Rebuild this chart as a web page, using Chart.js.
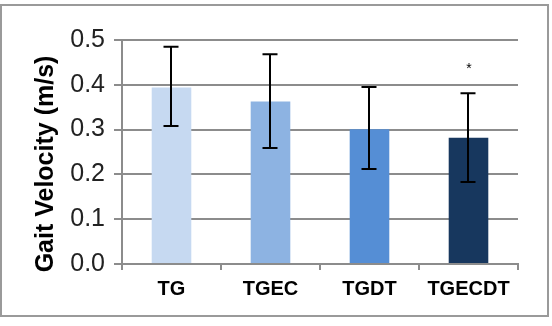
<!DOCTYPE html>
<html>
<head>
<meta charset="utf-8">
<script src="https://cdn.jsdelivr.net/npm/chart.js@4"></script>
<style>
  body { margin: 0; background: #fff; }
  #wrap { position: relative; width: 552px; height: 326px; }
  #frame {
    position: absolute; left: 0px; top: 4px; width: 545px; height: 309px;
    border: 2px solid #9a9a9a; pointer-events: none;
  }
</style>
</head>
<body>
<div id="wrap">
  <canvas id="gaitChart" width="552" height="326"></canvas>
  <div id="frame"></div>
</div>
<script>
const groups = ['TG', 'TGEC', 'TGDT', 'TGECDT'];
const velocity = [0.394, 0.363, 0.301, 0.282];
const errUpper = [0.485, 0.468, 0.395, 0.381];
const errLower = [0.308, 0.259, 0.212, 0.183];
const sigMarks = ['', '', '', '*'];
const yTicks = [0.0, 0.1, 0.2, 0.3, 0.4, 0.5];
const barColors = ['#c6d9f1', '#8db3e2', '#558ed5', '#17375e'];

// error bars, significance star and the rotated axis title
const extras = {
    id: 'extras',
    afterDatasetsDraw(chart) {
        const ctx = chart.ctx;
        const x = chart.scales.x, y = chart.scales.y;
        ctx.save();
        ctx.strokeStyle = '#000';
        ctx.lineWidth = 2;
        groups.forEach((g, i) => {
            const cx = Math.round(x.getPixelForValue(i)) - 1;
            const top = y.getPixelForValue(errUpper[i]);
            const bot = y.getPixelForValue(errLower[i]);
            ctx.beginPath();
            ctx.moveTo(cx, top); ctx.lineTo(cx, bot);
            ctx.moveTo(cx - 7.5, top); ctx.lineTo(cx + 7.5, top);
            ctx.moveTo(cx - 7.5, bot); ctx.lineTo(cx + 7.5, bot);
            ctx.stroke();
            if (sigMarks[i]) {
                ctx.fillStyle = '#000';
                ctx.font = '14px "Liberation Sans", Arial, sans-serif';
                ctx.textAlign = 'center';
                ctx.textBaseline = 'middle';
                ctx.fillText(sigMarks[i], cx + 1, top - 24);
            }
        });
        ctx.restore();
    },
    afterDraw(chart) {
        const ctx = chart.ctx;
        ctx.save();
        ctx.translate(46, 164);
        ctx.rotate(-Math.PI / 2);
        ctx.fillStyle = '#000';
        ctx.font = 'bold 25px "Liberation Sans", Arial, sans-serif';
        ctx.textAlign = 'center';
        ctx.textBaseline = 'middle';
        ctx.fillText('Gait Velocity (m/s)', 0, 0);
        ctx.restore();
    }
};

const ctx = document.getElementById('gaitChart').getContext('2d');
const gaitChart = new Chart(ctx, {
    type: 'bar',
    data: {
        labels: groups,
        datasets: [{
            data: velocity,
            backgroundColor: barColors,
            borderWidth: 0,
            categoryPercentage: 1,
            barPercentage: 0.4,
        }],
    },
    options: {
        responsive: false,
        animation: false,
        devicePixelRatio: 1,
        layout: { padding: { top: 40, right: 34, bottom: 18, left: 0 } },
        plugins: { legend: { display: false }, tooltip: { enabled: false } },
        scales: {
            x: {
                grid: { display: true, drawOnChartArea: false, tickLength: 6, color: '#8c8c8c', lineWidth: 2 },
                border: { color: '#8c8c8c', width: 2 },
                ticks: {
                    padding: 7,
                    color: '#000',
                    font: { family: '"Liberation Sans", Arial', size: 20, weight: 'bold' },
                },
            },
            y: {
                min: 0,
                max: 0.5,
                afterFit(scale) { scale.width = 122; },
                afterBuildTicks(scale) { scale.ticks = yTicks.map(v => ({ value: v })); },
                grid: { color: '#8c8c8c', lineWidth: 2, tickLength: 8 },
                border: { color: '#8c8c8c', width: 2 },
                ticks: {
                    padding: 9,
                    color: '#222',
                    font: { family: '"Liberation Sans", Arial', size: 25 },
                    callback: v => Number(v).toFixed(1),
                },
            },
        },
    },
    plugins: [extras],
});
</script>
</body>
</html>
